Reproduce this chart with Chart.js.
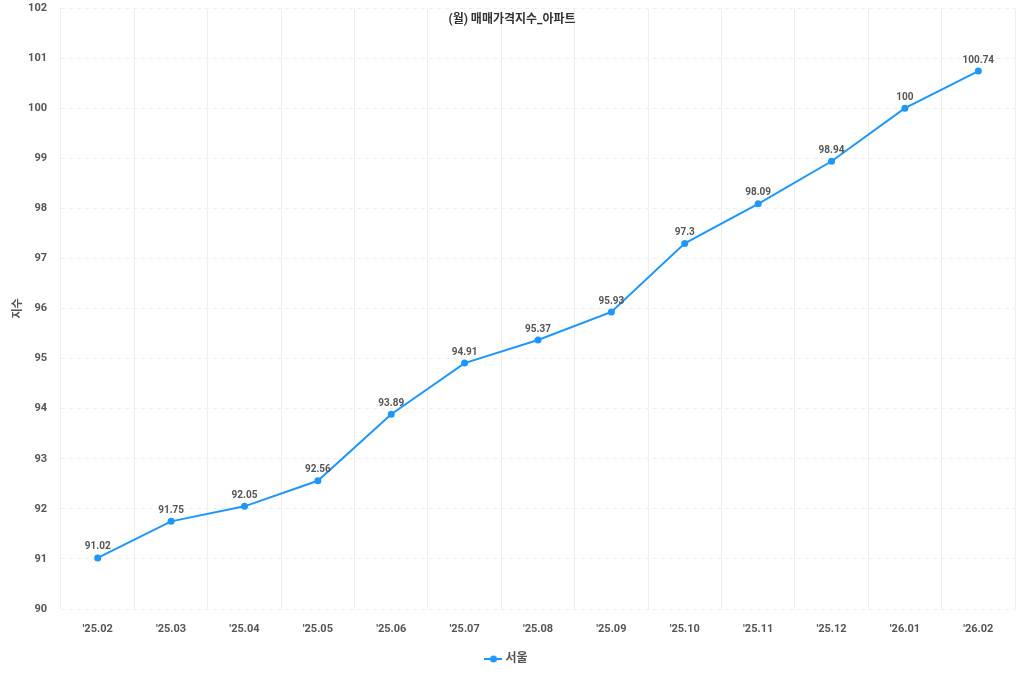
<!DOCTYPE html>
<html>
<head>
<meta charset="utf-8">
<script src="https://cdn.jsdelivr.net/npm/chart.js@4/dist/chart.umd.min.js"></script>
<style>
  html, body { margin: 0; padding: 0; background: #fff; }
  #wrap { width: 1024px; height: 683px; position: relative; }
</style>
</head>
<body>
<div id="wrap"><canvas id="lineChart"></canvas></div>
<script>
const months = ["'25.02", "'25.03", "'25.04", "'25.05", "'25.06", "'25.07", "'25.08", "'25.09", "'25.10", "'25.11", "'25.12", "'26.01", "'26.02"];
const seoulValues = [91.02, 91.75, 92.05, 92.56, 93.89, 94.91, 95.37, 95.93, 97.3, 98.09, 98.94, 100, 100.74];
const chartTitle = '(월) 매매가격지수_아파트';
const yAxisTitle = '지수';
const seriesName = '서울';

const lineColor = 'rgb(30, 150, 250)';
const fontStack = "Roboto, 'Noto Sans CJK KR', sans-serif";

// legend marker: short line with a dot in the middle
function legendMarker() {
  const c = document.createElement('canvas');
  c.width = 18; c.height = 10;
  const g = c.getContext('2d');
  g.strokeStyle = lineColor;
  g.lineWidth = 2;
  g.beginPath();
  g.moveTo(0, 5); g.lineTo(18, 5);
  g.stroke();
  g.fillStyle = lineColor;
  g.beginPath();
  g.arc(9, 5, 3.5, 0, Math.PI * 2);
  g.fill();
  return c;
}

const overlayText = {
  id: 'overlayText',
  afterDatasetsDraw(chart) {
    const ctx = chart.ctx;
    ctx.save();
    // value labels above points
    const meta = chart.getDatasetMeta(0);
    ctx.font = "bold 10px " + fontStack;
    ctx.fillStyle = '#555';
    ctx.textAlign = 'center';
    ctx.textBaseline = 'bottom';
    meta.data.forEach((pt, i) => {
      ctx.fillText(String(chart.data.datasets[0].data[i]), pt.x, pt.y - 6);
    });
    // title drawn over the plot area, centred on the canvas
    ctx.font = "bold 12px " + fontStack;
    ctx.fillStyle = '#333';
    ctx.textBaseline = 'middle';
    ctx.fillText(chartTitle, chart.width / 2, 20);
    // y axis title
    const area = chart.chartArea;
    ctx.translate(18, (area.top + area.bottom) / 2);
    ctx.rotate(-Math.PI / 2);
    ctx.font = "bold 11px " + fontStack;
    ctx.fillStyle = '#555';
    ctx.fillText(yAxisTitle, 0, 0);
    ctx.restore();
  }
};

const ctx = document.getElementById('lineChart').getContext('2d');
new Chart(ctx, {
  type: 'line',
  data: {
    labels: months,
    datasets: [{
      label: seriesName,
      data: seoulValues,
      borderColor: lineColor,
      backgroundColor: lineColor,
      borderWidth: 2,
      pointRadius: 3.5,
      pointHoverRadius: 4,
      pointBackgroundColor: lineColor,
      pointBorderWidth: 0,
      tension: 0,
      fill: false
    }]
  },
  options: {
    responsive: true,
    maintainAspectRatio: false,
    animation: false,
    layout: { padding: { top: 8, right: 9, left: 0, bottom: 8 } },
    plugins: {
      title: { display: false },
      tooltip: { enabled: false },
      legend: {
        position: 'bottom',
        labels: {
          usePointStyle: true,
          pointStyle: legendMarker(),
          color: '#555',
          font: { family: fontStack, size: 12, weight: 'bold' },
          padding: 12
        }
      }
    },
    scales: {
      x: {
        offset: true,
        afterFit(scale) { scale.height = 32; },
        grid: { offset: true, color: '#eeeeee', drawTicks: false },
        border: { display: false },
        ticks: {
          color: '#555',
          padding: 14,
          maxRotation: 0,
          autoSkip: false,
          font: { family: fontStack, size: 11, weight: 'bold' }
        }
      },
      y: {
        min: 90,
        max: 102,
        afterFit(scale) {
          scale.width = 61;
          scale.paddingTop = 0;
          scale.paddingBottom = 0;
        },
        grid: { color: '#eeeeee', drawTicks: false },
        border: { display: false, dash: [4, 4] },
        ticks: {
          stepSize: 1,
          color: '#555',
          padding: 14,
          font: { family: fontStack, size: 11, weight: 'bold' }
        }
      }
    }
  },
  plugins: [overlayText]
});
</script>
</body>
</html>
